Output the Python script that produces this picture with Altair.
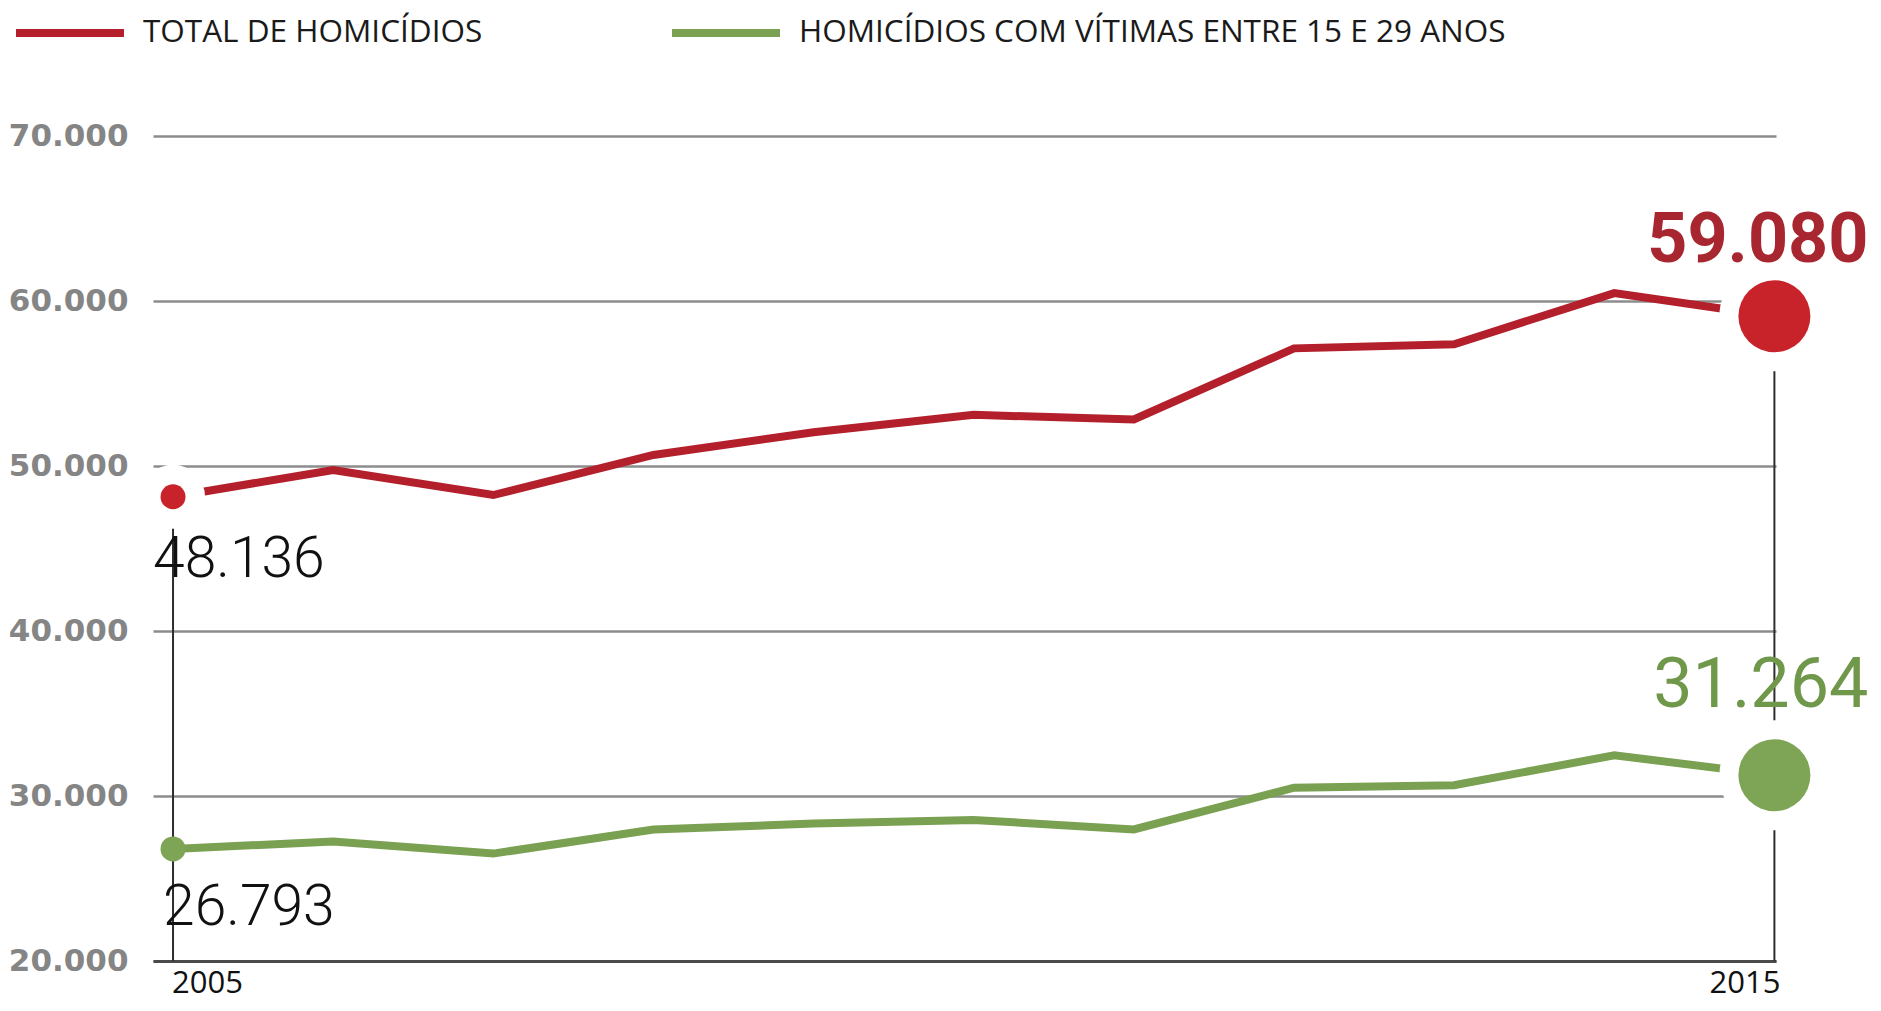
import altair as alt
import pandas as pd

# ---- data ----
years = [2005, 2006, 2007, 2008, 2009, 2010, 2011, 2012, 2013, 2014, 2015]
total = [48136, 49760, 48240, 50670, 52050, 53100, 52820, 57130, 57380, 60480, 59080]
youth = [26793, 27240, 26510, 27970, 28330, 28550, 27970, 30500, 30650, 32470, 31264]
series_names = ["TOTAL DE HOMICÍDIOS", "HOMICÍDIOS COM VÍTIMAS ENTRE 15 E 29 ANOS"]
y_ticks = [20000, 30000, 40000, 50000, 60000, 70000]
x_labels = [2005, 2015]

RED = "#b3202b"
GREEN = "#7aa052"
RED_DOT = "#c8232b"
GREEN_DOT = "#7ea556"

df = pd.DataFrame({
    "ano": years * 2,
    "valor": total + youth,
    "serie": [series_names[0]] * len(years) + [series_names[1]] * len(years),
})
df["rotulo"] = df["valor"].map(lambda v: f"{v:,}".replace(",", "."))
df["base"] = y_ticks[0]

xlab = pd.DataFrame({"ano": x_labels, "txt": [str(v) for v in x_labels]})

x_scale = alt.Scale(domain=[2004.875, 2015.01], nice=False, zero=False)
y_scale = alt.Scale(domain=[y_ticks[0], y_ticks[-1]], nice=False, zero=False)

x_axis = alt.Axis(title=None, labels=False, ticks=False, grid=False,
                  domainColor="#4a4a4a", domainWidth=3)
y_axis = alt.Axis(title=None, values=y_ticks, ticks=False, domain=False,
                  labelExpr="replace(format(datum.value, ','), ',', '.')",
                  labelFont="DejaVu Sans", labelFontWeight="bold", labelFontSize=31,
                  labelColor="#858585", labelPadding=25,
                  gridColor="#8c8c8c", gridWidth=2.5, gridOpacity=1)

X = alt.X("ano:Q", scale=x_scale, axis=x_axis)
Y = alt.Y("valor:Q", scale=y_scale, axis=y_axis)
Xs = alt.X("ano:Q", scale=x_scale)
Ys = alt.Y("valor:Q", scale=y_scale)

color_scale = alt.Scale(domain=series_names, range=[RED, GREEN])
dot_scale = alt.Scale(domain=series_names, range=[RED_DOT, GREEN_DOT])

base = alt.Chart(df)

lines = base.mark_line(strokeWidth=8, strokeCap="butt").encode(
    x=X, y=Y,
    color=alt.Color("serie:N", scale=color_scale, sort=series_names,
                    legend=alt.Legend(title=None, orient="none", legendX=-141, legendY=-161,
                                      direction="horizontal", symbolType="stroke",
                                      symbolSize=11664, symbolStrokeWidth=8,
                                      labelFont="Open Sans", labelFontSize=31.5,
                                      labelColor="#1a1a1a", labelOffset=15,
                                      columnPadding=173, padding=0, labelLimit=0)),
)

rules = base.transform_filter(
    f"datum.serie == '{series_names[0]}' && (datum.ano == {years[0]} || datum.ano == {years[-1]})"
).mark_rule(color="#2e2e2e", strokeWidth=2).encode(
    x=Xs, y=Ys, y2="base:Q"
)

halo_start = base.transform_filter(
    f"datum.serie == '{series_names[0]}' && datum.ano == {years[0]}"
).mark_circle(size=4096, color="white", opacity=1).encode(x=Xs, y=Ys)

halo_end = base.transform_filter(
    f"datum.ano == {years[-1]}"
).mark_circle(size=12100, color="white", opacity=1).encode(x=Xs, y=Ys)

dots_start = base.transform_filter(
    f"datum.ano == {years[0]}"
).mark_circle(size=625, opacity=1).encode(
    x=Xs, y=Ys, color=alt.Color("serie:N", scale=dot_scale, legend=None)
)

dots_end = base.transform_filter(
    f"datum.ano == {years[-1]}"
).mark_circle(size=5184, opacity=1).encode(
    x=Xs, y=Ys, color=alt.Color("serie:N", scale=dot_scale, legend=None)
)

lbl_red_start = base.transform_filter(
    f"datum.serie == '{series_names[0]}' && datum.ano == {years[0]}"
).mark_text(align="left", baseline="alphabetic", dx=-20, dy=80,
            font="Roboto", fontSize=57, fontWeight=300, color="#111111").encode(
    x=Xs, y=Ys, text="rotulo:N")

lbl_green_start = base.transform_filter(
    f"datum.serie == '{series_names[1]}' && datum.ano == {years[0]}"
).mark_text(align="left", baseline="alphabetic", dx=-10, dy=76,
            font="Roboto", fontSize=57, fontWeight=300, color="#111111").encode(
    x=Xs, y=Ys, text="rotulo:N")

lbl_red_end = base.transform_filter(
    f"datum.serie == '{series_names[0]}' && datum.ano == {years[-1]}"
).mark_text(align="right", baseline="alphabetic", dx=94, dy=-54,
            font="Roboto", fontSize=70, fontWeight="bold", color="#a8262f").encode(
    x=Xs, y=Ys, text="rotulo:N")

lbl_green_end = base.transform_filter(
    f"datum.serie == '{series_names[1]}' && datum.ano == {years[-1]}"
).mark_text(align="right", baseline="alphabetic", dx=94, dy=-68,
            font="Roboto", fontSize=70, fontWeight="normal", color="#6f984a").encode(
    x=Xs, y=Ys, text="rotulo:N")

xl = alt.Chart(xlab)
year_first = xl.transform_filter(f"datum.ano == {x_labels[0]}").mark_text(
    align="left", baseline="alphabetic", dx=-1, font="Open Sans", fontSize=31, color="#111111"
).encode(x=Xs, y=alt.value(857), text="txt:N")
year_last = xl.transform_filter(f"datum.ano == {x_labels[-1]}").mark_text(
    align="right", baseline="alphabetic", dx=6, font="Open Sans", fontSize=31, color="#111111"
).encode(x=Xs, y=alt.value(857), text="txt:N")

chart = alt.layer(
    lines, rules, halo_start, halo_end, dots_start, dots_end,
    lbl_red_start, lbl_green_start, lbl_red_end, lbl_green_end,
    year_first, year_last,
).resolve_scale(color="independent").properties(
    width=1623, height=825,
    padding={"left": 145, "top": 128, "right": 96, "bottom": 42},
    autosize="none",
    background="white",
).configure_view(strokeWidth=0, stroke="transparent")

chart.save("out.html", embed_options={"renderer": "svg", "actions": False})
